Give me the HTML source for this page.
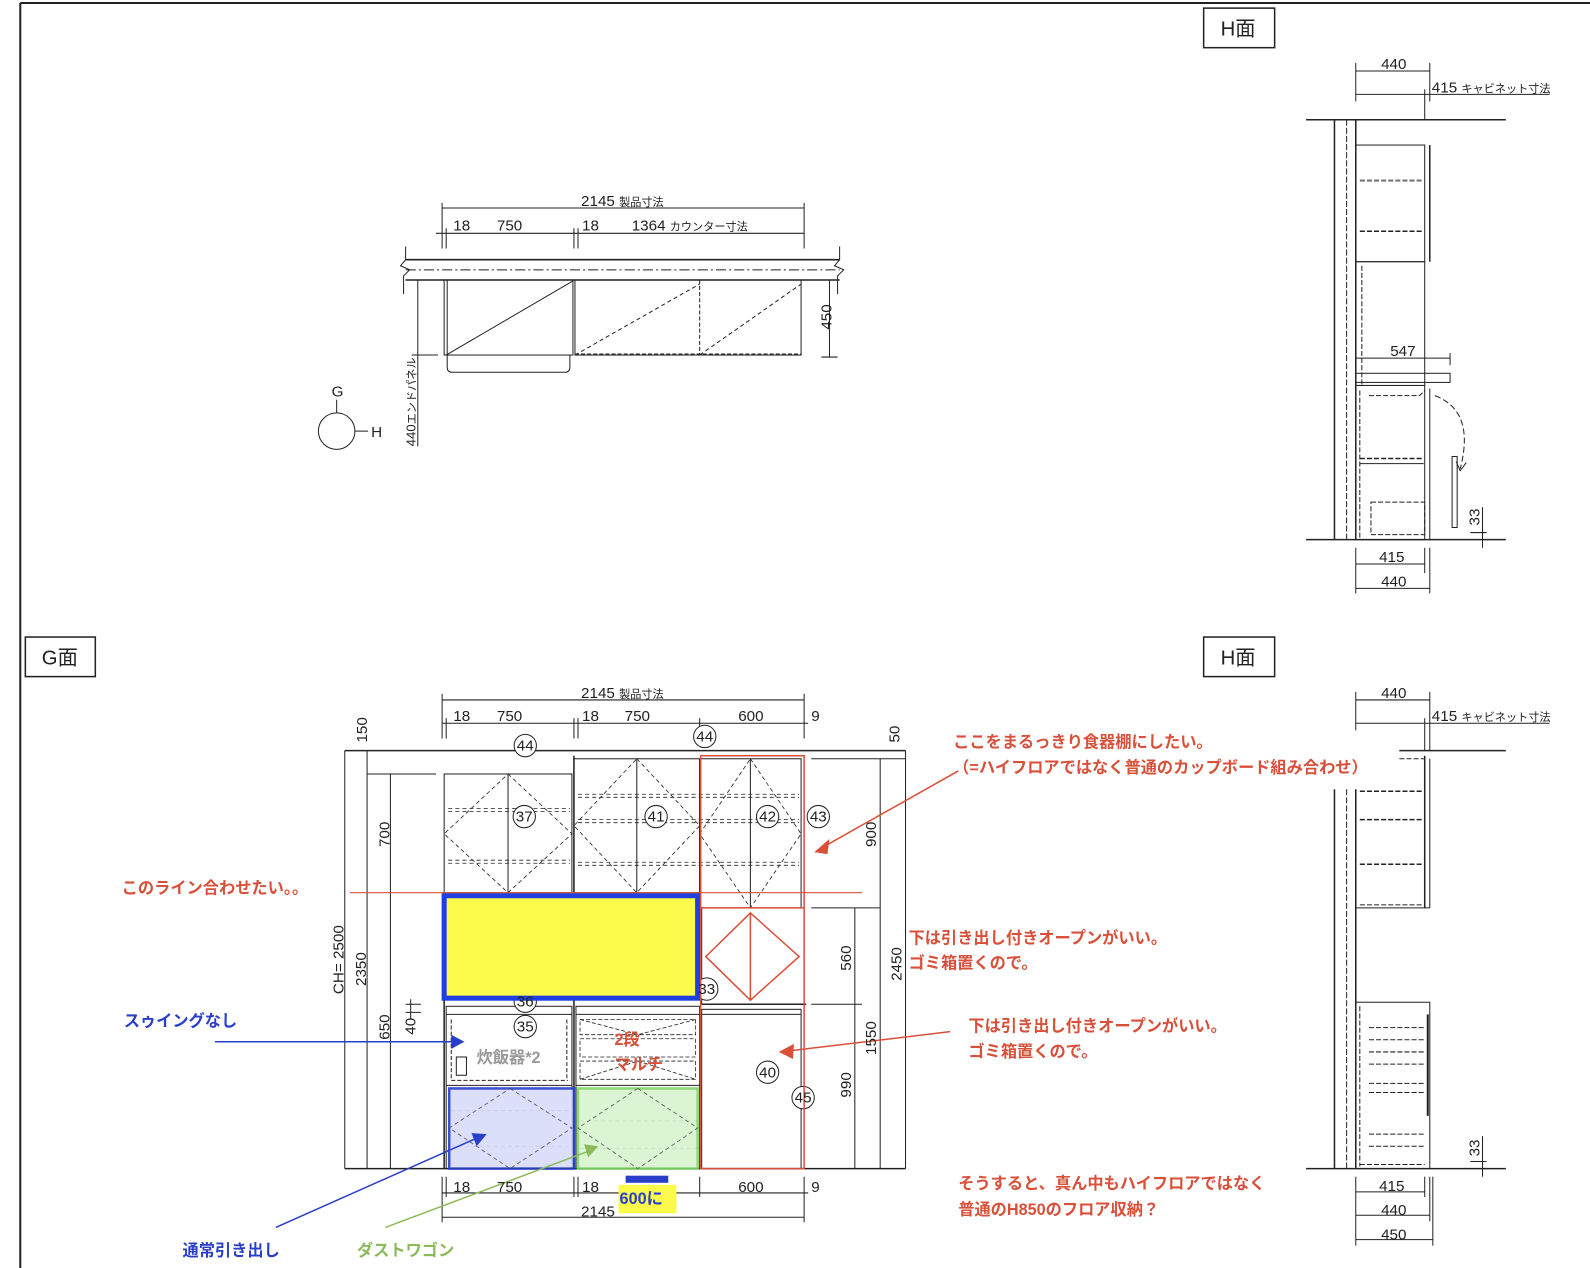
<!DOCTYPE html>
<html><head><meta charset="utf-8"><style>
html,body{margin:0;padding:0;background:#fff;}
svg{display:block;}
.d{font-family:"Liberation Sans","Noto Sans CJK JP",sans-serif;font-size:15px;fill:#222;}
.s{font-size:11px;}
.r{font-family:"Liberation Sans","Noto Sans CJK JP",sans-serif;font-weight:bold;font-size:16px;fill:#d9503a;}
.b{font-family:"Liberation Sans","Noto Sans CJK JP",sans-serif;font-weight:bold;font-size:16px;fill:#2a3fc8;}
.g{font-family:"Liberation Sans","Noto Sans CJK JP",sans-serif;font-weight:bold;font-size:16px;fill:#8cba5a;}
</style></head><body>
<svg width="1590" height="1268" viewBox="0 0 1568 1250" preserveAspectRatio="none" xmlns="http://www.w3.org/2000/svg">
<g stroke="#222" fill="none" stroke-width="1">
<!-- border -->
<line x1="20" y1="3" x2="1568" y2="3" stroke-width="2"/>
<line x1="20" y1="3" x2="20" y2="1250" stroke-width="2"/>
<rect x="1187" y="8" width="70" height="39" stroke-width="1.5"/>
<rect x="1187" y="628" width="70" height="39" stroke-width="1.5"/>
<rect x="25" y="628" width="69" height="39" stroke-width="1.5"/>

<!-- TOP PLAN -->
<line x1="436" y1="205" x2="793" y2="205"/>
<line x1="430" y1="230" x2="793" y2="230"/>
<line x1="436" y1="200" x2="436" y2="245"/><line x1="440" y1="225" x2="440" y2="245"/>
<line x1="566" y1="225" x2="566" y2="245"/><line x1="570" y1="225" x2="570" y2="245"/>
<line x1="793" y1="200" x2="793" y2="245"/>
<path d="M400 243 V256 L395 262 L404 266 L398 272 V290 M828 243 V256 L823 262 L832 266 L826 272 V290"/>
<line x1="400" y1="256" x2="828" y2="256" stroke-width="1.5"/>
<line x1="400" y1="276" x2="828" y2="276" stroke-width="1.5"/>
<line x1="400" y1="266" x2="828" y2="266" stroke-dasharray="10,3,2,3"/>
<rect x="438" y="276" width="127" height="74"/>
<line x1="441" y1="276" x2="441" y2="350"/>
<line x1="440" y1="350" x2="565" y2="277"/>
<rect x="567" y="276" width="223" height="74"/>
<line x1="690" y1="276" x2="690" y2="350" stroke-dasharray="4,2"/>
<line x1="567" y1="350" x2="690" y2="280" stroke-dasharray="4,3"/>
<line x1="690" y1="350" x2="790" y2="280" stroke-dasharray="4,3"/>
<line x1="567" y1="349" x2="790" y2="349" stroke-dasharray="4,2"/>
<path d="M441 350 V362 Q441 367 446 367 H557 Q562 367 562 362 V350"/>
<line x1="818" y1="276" x2="818" y2="352"/><line x1="810" y1="352" x2="826" y2="352"/>
<line x1="412" y1="276" x2="412" y2="440"/><line x1="406" y1="350" x2="432" y2="350"/>
<circle cx="332" cy="425" r="18"/>
<line x1="332" y1="407" x2="332" y2="394"/><line x1="350" y1="425" x2="363" y2="425"/>

<!-- H TOP -->
<line x1="1337" y1="70" x2="1410" y2="70"/>
<line x1="1337" y1="93" x2="1528" y2="93"/>
<line x1="1337" y1="62" x2="1337" y2="100"/><line x1="1410" y1="62" x2="1410" y2="100"/><line x1="1405" y1="88" x2="1405" y2="118"/>
<line x1="1288" y1="118" x2="1485" y2="118" stroke-width="1.5"/>
<line x1="1288" y1="532" x2="1485" y2="532" stroke-width="1.5"/>
<line x1="1316" y1="118" x2="1316" y2="532" stroke-width="1.5"/>
<line x1="1328" y1="118" x2="1328" y2="532" stroke-dasharray="6,2"/>
<line x1="1337" y1="118" x2="1337" y2="532" stroke-width="1.5"/>
<rect x="1337" y="143" width="68" height="115"/>
<line x1="1410" y1="143" x2="1410" y2="258" stroke-width="1.5"/>
<line x1="1341" y1="178" x2="1404" y2="178" stroke-dasharray="5,2" stroke-width="2" stroke="#777"/>
<line x1="1341" y1="228" x2="1404" y2="228" stroke-dasharray="5,2" stroke-width="1.5"/>
<rect x="1337" y="258" width="68" height="122"/>
<line x1="1343" y1="262" x2="1343" y2="380" stroke-dasharray="5,2"/>
<line x1="1337" y1="353" x2="1430" y2="353"/><line x1="1430" y1="348" x2="1430" y2="360"/>
<rect x="1337" y="368" width="93" height="9"/>
<rect x="1337" y="380" width="68" height="152"/>
<line x1="1410" y1="383" x2="1410" y2="532"/>
<path d="M1350 390 H1400 L1405 385" stroke-dasharray="5,2"/>
<line x1="1341" y1="452" x2="1404" y2="452" stroke-dasharray="5,2" stroke-width="1.5"/>
<line x1="1341" y1="457" x2="1404" y2="457"/>
<rect x="1352" y="495" width="53" height="32" stroke-dasharray="5,2"/>
<line x1="1341" y1="385" x2="1341" y2="530" stroke-dasharray="5,2"/>
<path d="M1415 390 Q1455 405 1440 462" stroke-dasharray="6,3"/>
<path d="M1436 455 L1440 464 L1446 456"/>
<rect x="1432" y="450" width="5" height="70"/>
<line x1="1462" y1="500" x2="1462" y2="540"/><line x1="1450" y1="525" x2="1466" y2="525"/>
<line x1="1337" y1="540" x2="1337" y2="585"/><line x1="1405" y1="540" x2="1405" y2="565"/><line x1="1410" y1="540" x2="1410" y2="585"/>
<line x1="1337" y1="556" x2="1405" y2="556"/><line x1="1337" y1="580" x2="1410" y2="580"/>

<!-- H BOTTOM -->
<line x1="1337" y1="690" x2="1410" y2="690"/>
<line x1="1337" y1="713" x2="1528" y2="713"/>
<line x1="1337" y1="682" x2="1337" y2="720"/><line x1="1410" y1="682" x2="1410" y2="740"/><line x1="1405" y1="708" x2="1405" y2="740"/>
<line x1="1380" y1="740" x2="1485" y2="740" stroke-width="1.5"/>
<line x1="1288" y1="1152" x2="1485" y2="1152" stroke-width="1.5"/>
<line x1="1316" y1="778" x2="1316" y2="1152" stroke-width="1.5"/>
<line x1="1328" y1="778" x2="1328" y2="1152" stroke-dasharray="6,2"/>
<line x1="1337" y1="778" x2="1337" y2="1152" stroke-width="1.5"/>
<line x1="1380" y1="748" x2="1405" y2="748" stroke-dasharray="5,2"/>
<line x1="1405" y1="745" x2="1405" y2="895" stroke-width="1.5"/><line x1="1410" y1="748" x2="1410" y2="895"/>
<line x1="1337" y1="895" x2="1410" y2="895"/>
<line x1="1341" y1="780" x2="1404" y2="780" stroke-dasharray="5,2" stroke-width="1.5"/>
<line x1="1341" y1="808" x2="1404" y2="808" stroke-dasharray="5,2" stroke-width="1.5"/>
<line x1="1341" y1="852" x2="1404" y2="852" stroke-dasharray="5,2" stroke-width="1.5"/>
<line x1="1341" y1="892" x2="1404" y2="892" stroke-dasharray="5,2"/>
<rect x="1337" y="988" width="73" height="164"/>
<line x1="1408" y1="1000" x2="1408" y2="1100" stroke-width="2"/>
<g stroke-dasharray="5,2"><line x1="1350" y1="1013" x2="1405" y2="1013"/><line x1="1350" y1="1025" x2="1405" y2="1025"/><line x1="1350" y1="1037" x2="1405" y2="1037"/><line x1="1350" y1="1049" x2="1405" y2="1049"/><line x1="1350" y1="1068" x2="1405" y2="1068"/><line x1="1350" y1="1077" x2="1405" y2="1077"/><line x1="1350" y1="1118" x2="1405" y2="1118"/><line x1="1350" y1="1130" x2="1405" y2="1130"/><line x1="1341" y1="1148" x2="1405" y2="1148"/><line x1="1341" y1="992" x2="1341" y2="1150"/></g>
<line x1="1462" y1="1120" x2="1462" y2="1160"/><line x1="1450" y1="1145" x2="1466" y2="1145"/>
<line x1="1337" y1="1160" x2="1337" y2="1228"/><line x1="1405" y1="1160" x2="1405" y2="1180"/><line x1="1410" y1="1160" x2="1410" y2="1204"/><line x1="1413" y1="1160" x2="1413" y2="1228"/>
<line x1="1337" y1="1175" x2="1405" y2="1175"/><line x1="1337" y1="1198" x2="1410" y2="1198"/><line x1="1337" y1="1222" x2="1413" y2="1222"/>

<!-- G ELEVATION dims -->
<line x1="436" y1="690" x2="793" y2="690"/>
<line x1="436" y1="713" x2="797" y2="713"/>
<line x1="436" y1="684" x2="436" y2="728"/><line x1="440" y1="708" x2="440" y2="728"/>
<line x1="566" y1="708" x2="566" y2="728"/><line x1="570" y1="708" x2="570" y2="728"/>
<line x1="690" y1="708" x2="690" y2="720"/><line x1="793" y1="684" x2="793" y2="728"/>
<line x1="340" y1="740" x2="893" y2="740" stroke-width="1.5"/>
<line x1="340" y1="1152" x2="893" y2="1152" stroke-width="1.5"/>
<line x1="340" y1="740" x2="340" y2="1152"/>
<line x1="362" y1="740" x2="362" y2="1152"/>
<line x1="385" y1="763" x2="385" y2="1152"/>
<line x1="362" y1="763" x2="430" y2="763"/>
<line x1="405" y1="985" x2="405" y2="1005"/><line x1="400" y1="990" x2="415" y2="990"/><line x1="400" y1="998" x2="415" y2="998"/>
<line x1="868" y1="748" x2="868" y2="1152"/>
<line x1="893" y1="740" x2="893" y2="1152"/>
<line x1="843" y1="895" x2="843" y2="1152"/>
<line x1="800" y1="748" x2="893" y2="748"/>
<line x1="800" y1="895" x2="868" y2="895"/>
<line x1="800" y1="990" x2="850" y2="990"/>
<!-- upper cabinets -->
<rect x="438" y="763" width="126" height="117"/>
<line x1="501" y1="763" x2="501" y2="880"/>
<rect x="566" y="748" width="124" height="132"/>
<line x1="628" y1="748" x2="628" y2="880"/>
<rect x="690" y="748" width="100" height="147"/>
<line x1="740" y1="748" x2="740" y2="895"/>
<line x1="566" y1="745" x2="566" y2="1152" stroke-width="1.5"/>
<line x1="438" y1="880" x2="438" y2="1152" stroke-width="1.5"/>
<g stroke-dasharray="4,3" stroke-width="0.8">
<path d="M501 763 L564 822 L501 880 L438 822 Z"/>
<path d="M628 748 L690 814 L628 880 L566 814 Z"/>
<path d="M740 748 L790 822 L740 895 L690 822 Z"/>
<line x1="442" y1="797" x2="562" y2="797"/><line x1="442" y1="800" x2="562" y2="800"/>
<line x1="442" y1="848" x2="562" y2="848"/><line x1="442" y1="851" x2="562" y2="851"/>
<line x1="570" y1="783" x2="788" y2="783"/><line x1="570" y1="786" x2="788" y2="786"/>
<line x1="570" y1="808" x2="788" y2="808"/><line x1="570" y1="811" x2="788" y2="811"/>
<line x1="570" y1="850" x2="788" y2="850"/><line x1="570" y1="853" x2="788" y2="853"/>
</g>
<!-- lower -->
<rect x="440" y="992" width="124" height="160"/>
<line x1="440" y1="1000" x2="564" y2="1000"/>
<line x1="440" y1="1070" x2="564" y2="1070"/>
<line x1="445" y1="1065" x2="560" y2="1065" stroke-dasharray="4,2"/>
<line x1="445" y1="1005" x2="445" y2="1065" stroke-dasharray="4,2"/>
<line x1="559" y1="1005" x2="559" y2="1065" stroke-dasharray="4,2"/>
<rect x="450" y="1042" width="10" height="18"/>
<rect x="568" y="992" width="122" height="160"/>
<line x1="568" y1="1000" x2="690" y2="1000"/>
<line x1="568" y1="1070" x2="690" y2="1070"/>
<g stroke-dasharray="4,2" stroke-width="0.8">
<rect x="572" y="1005" width="114" height="15"/><rect x="572" y="1024" width="114" height="18"/><rect x="572" y="1046" width="114" height="18"/>
<path d="M572 1005 L629 1020 L686 1005 M572 1064 L629 1046 L686 1064"/>
</g>
<rect x="692" y="995" width="98" height="157"/>
<line x1="692" y1="1000" x2="790" y2="1000"/>
<line x1="692" y1="895" x2="692" y2="990"/>
<line x1="692" y1="990" x2="795" y2="990" stroke-width="1.5"/>
<g stroke-dasharray="4,3" stroke-width="0.8">
<path d="M503 1073 L564 1112 L503 1152 L443 1112 Z"/>
<path d="M629 1073 L688 1112 L629 1152 L570 1112 Z"/>
<line x1="445" y1="1095" x2="564" y2="1095"/><line x1="445" y1="1130" x2="564" y2="1130"/>
<line x1="572" y1="1105" x2="688" y2="1105"/><line x1="572" y1="1132" x2="688" y2="1132"/>
</g>
<!-- bottom dims -->
<line x1="436" y1="1160" x2="436" y2="1205"/><line x1="440" y1="1160" x2="440" y2="1180"/>
<line x1="566" y1="1160" x2="566" y2="1180"/><line x1="570" y1="1160" x2="570" y2="1180"/>
<line x1="690" y1="1160" x2="690" y2="1180"/><line x1="793" y1="1160" x2="793" y2="1205"/>
<line x1="436" y1="1176" x2="797" y2="1176"/>
<line x1="436" y1="1200" x2="793" y2="1200"/>
<!-- circles -->
<g fill="#fff">
<circle cx="518" cy="735" r="11"/><circle cx="695" cy="726" r="11"/>
<circle cx="517" cy="805" r="11"/><circle cx="647" cy="805" r="11"/><circle cx="757" cy="805" r="11"/><circle cx="807" cy="805" r="11"/>
<circle cx="697" cy="975" r="11"/><circle cx="518" cy="987" r="11"/><circle cx="518" cy="1012" r="11"/>
<circle cx="757" cy="1057" r="11"/><circle cx="792" cy="1082" r="11"/>
</g>
</g>

<!-- colored overlays -->
<rect x="570" y="1073" width="118" height="79" fill="#d8f5cf" stroke="#7fd467" stroke-width="2.5" opacity="0.9"/>
<rect x="443" y="1073" width="123" height="79" fill="#d8dcfa" stroke="#2a3fc8" stroke-width="2.5" opacity="0.9"/>
<path d="M503 1073 L564 1112 L503 1152 L443 1112 Z M629 1073 L688 1112 L629 1152 L570 1112 Z" fill="none" stroke="#555" stroke-width="0.8" stroke-dasharray="4,3"/>
<rect x="438" y="883" width="250" height="101" fill="#fcfa4a" stroke="#1f3fe0" stroke-width="5"/>
<g stroke="#d9503a" fill="none" stroke-width="1.5">
<rect x="691" y="745" width="102" height="407"/>
<line x1="691" y1="895" x2="793" y2="895"/>
<path d="M740 900 L788 943 L740 986 L696 943 Z"/>
<line x1="740" y1="900" x2="740" y2="986"/>
<line x1="345" y1="880" x2="850" y2="880" stroke-width="1.2"/>
<line x1="945" y1="760" x2="810" y2="836"/>
<line x1="937" y1="1017" x2="778" y2="1036"/>
</g>
<path d="M803 840 L818 827 L816 842 Z" fill="#d9503a"/>
<path d="M768 1037 L783 1029 L782 1044 Z" fill="#d9503a"/>
<line x1="212" y1="1027" x2="448" y2="1027" stroke="#2a3fc8" stroke-width="1.5"/>
<path d="M458 1027 L445 1020 L445 1034 Z" fill="#2a3fc8"/>
<line x1="272" y1="1210" x2="470" y2="1122" stroke="#2a3fc8" stroke-width="1.5"/>
<path d="M480 1118 L465 1117 L470 1130 Z" fill="#2a3fc8"/>
<line x1="380" y1="1210" x2="580" y2="1135" stroke="#8cba5a" stroke-width="1.5"/>
<path d="M590 1130 L576 1128 L580 1141 Z" fill="#8cba5a"/>
<rect x="610" y="1168" width="57" height="28" fill="#fcfa4a"/>
<rect x="617" y="1159" width="42" height="7" fill="#2a3fc8"/>

<!-- TEXT -->
<g class="d">
<text x="1221" y="35" text-anchor="middle" font-size="20">H面</text>
<text x="1221" y="655" text-anchor="middle" font-size="20">H面</text>
<text x="59" y="655" text-anchor="middle" font-size="20">G面</text>
<text x="573" y="203">2145 <tspan class="s">製品寸法</tspan></text>
<text x="447" y="227">18</text><text x="490" y="227">750</text><text x="574" y="227">18</text><text x="623" y="227">1364 <tspan class="s">カウンター寸法</tspan></text>
<text x="808" y="313" transform="rotate(-90 820 313)">450</text>
<text x="410" y="440" transform="rotate(-90 410 440)" font-size="13">440<tspan class="s">エンドパネル</tspan></text>
<text x="327" y="391">G</text><text x="366" y="431">H</text>
<text x="1362" y="68">440</text><text x="1412" y="91">415 <tspan class="s">キャビネット寸法</tspan></text>
<text x="1371" y="351">547</text>
<text x="1360" y="554">415</text><text x="1362" y="578">440</text>
<text x="1459" y="518" transform="rotate(-90 1459 518)">33</text>
<text x="1362" y="688">440</text><text x="1412" y="711">415 <tspan class="s">キャビネット寸法</tspan></text>
<text x="1360" y="1174">415</text><text x="1362" y="1198">440</text><text x="1362" y="1222">450</text>
<text x="1459" y="1140" transform="rotate(-90 1459 1140)">33</text>
<text x="573" y="688">2145 <tspan class="s">製品寸法</tspan></text>
<text x="447" y="711">18</text><text x="490" y="711">750</text><text x="574" y="711">18</text><text x="616" y="711">750</text><text x="728" y="711">600</text><text x="800" y="711">9</text>
<text x="447" y="1175">18</text><text x="490" y="1175">750</text><text x="574" y="1175">18</text><text x="728" y="1175">600</text><text x="800" y="1175">9</text>
<text x="573" y="1199">2145</text>
<text x="362" y="732" transform="rotate(-90 362 732)">150</text>
<text x="887" y="732" transform="rotate(-90 887 732)">50</text>
<text x="339" y="980" transform="rotate(-90 339 980)">CH= 2500</text>
<text x="361" y="972" transform="rotate(-90 361 972)">2350</text>
<text x="384" y="835" transform="rotate(-90 384 835)">700</text>
<text x="384" y="1025" transform="rotate(-90 384 1025)">650</text>
<text x="410" y="1020" transform="rotate(-90 410 1020)">40</text>
<text x="864" y="835" transform="rotate(-90 864 835)">900</text>
<text x="839" y="957" transform="rotate(-90 839 957)">560</text>
<text x="889" y="967" transform="rotate(-90 889 967)">2450</text>
<text x="864" y="1040" transform="rotate(-90 864 1040)">1550</text>
<text x="839" y="1082" transform="rotate(-90 839 1082)">990</text>
</g>
<g class="d" font-size="13" text-anchor="middle">
<text x="518" y="740">44</text><text x="695" y="731">44</text><text x="517" y="810">37</text><text x="647" y="810">41</text><text x="757" y="810">42</text><text x="807" y="810">43</text><text x="697" y="980">33</text><text x="518" y="992">36</text><text x="518" y="1017">35</text><text x="757" y="1062">40</text><text x="792" y="1087">45</text>
</g>
<text x="470" y="1048" font-family="Liberation Sans,Noto Sans CJK JP,sans-serif" font-weight="bold" font-size="16" fill="#999">炊飯器*2</text>
<text x="606" y="1030" class="r">2段</text><text x="606" y="1055" class="r">マルチ</text>
<text x="611" y="1187" class="b" font-size="17">600に</text>
<text x="940" y="737" class="r">ここをまるっきり食器棚にしたい。</text>
<text x="940" y="762" class="r">（=ハイフロアではなく普通のカップボード組み合わせ）</text>
<text x="120" y="881" class="r">このライン合わせたい。。</text>
<text x="896" y="930" class="r">下は引き出し付きオープンがいい。</text>
<text x="896" y="955" class="r">ゴミ箱置くので。</text>
<text x="955" y="1017" class="r">下は引き出し付きオープンがいい。</text>
<text x="955" y="1042" class="r">ゴミ箱置くので。</text>
<text x="945" y="1172" class="r">そうすると、真ん中もハイフロアではなく</text>
<text x="945" y="1198" class="r">普通のH850のフロア収納？</text>
<text x="122" y="1012" class="b">スゥイングなし</text>
<text x="180" y="1238" class="b">通常引き出し</text>
<text x="352" y="1238" class="g">ダストワゴン</text>
</svg>
</body></html>
